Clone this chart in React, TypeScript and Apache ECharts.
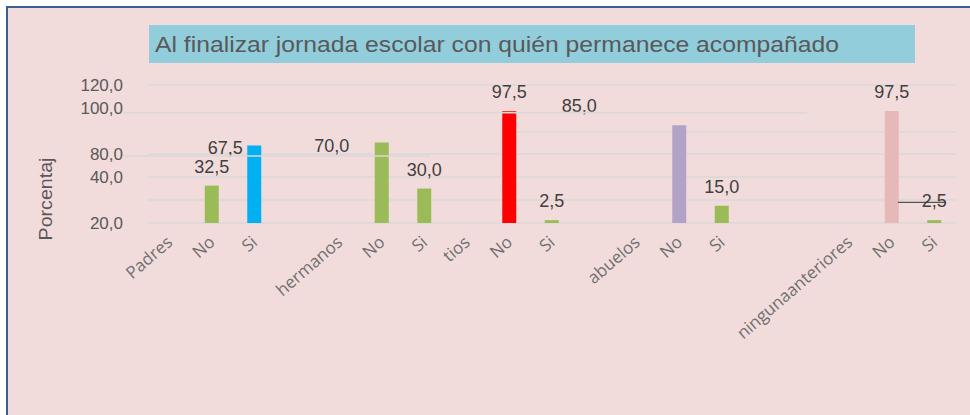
import React, { useEffect, useRef } from "react";
import * as echarts from "echarts";

const categories = [
  "Padres", "No", "Si", "", "hermanos", "No", "Si", "tios", "No", "Si", "",
  "abuelos", "No", "Si", "", "", "ningunaanteriores", "No", "Si",
];
const values: (number | null)[] = [
  null, 32.5, 67.5, null, null, 70.0, 30.0, null, 97.5, 2.5, null,
  null, 85.0, 15.0, null, null, null, 97.5, 2.5,
];
const barColors = [
  "", "#9BBB59", "#00B0F0", "", "", "#9BBB59", "#9BBB59", "", "#FF0000", "#9BBB59", "",
  "", "#B3A2C7", "#9BBB59", "", "", "", "#E6B9B8", "#9BBB59",
];
// tick labels as they appear at ticks 0,20,40,60,80,100,120
const yTickLabels = ["20,0", "", "40,0", "80,0", "", "100,0", "120,0"];
const titleText = "Al finalizar jornada escolar con quién permanece acompañado";
const yAxisTitle = "Porcentaj";

// label displacement (style only)
const labelShift: Record<number, [number, number]> = {
  2: [-29, 22],
  5: [-50, 22],
  12: [-100, 0],
};

const GRID = "#D9D9D9";
const TEXT = "#404040";
const FONT = "Liberation Sans, Arial, sans-serif";

export default function App() {
  const ref = useRef<HTMLDivElement>(null);
  useEffect(() => {
    if (!ref.current) return;
    const chart = echarts.init(ref.current, undefined, { renderer: "svg" });
    const fmt = (v: number) => v.toFixed(1).replace(".", ",");
    chart.setOption({
      animation: false,
      backgroundColor: "#F2DCDB",
      grid: { left: 140, top: 77, width: 807.5, height: 138, containLabel: false },
      xAxis: {
        type: "category",
        data: categories,
        axisLine: { show: false },
        axisTick: { show: false },
        axisLabel: {
          interval: 0,
          rotate: 41,
          margin: 16,
          color: "#707070",
          fontSize: 17,
          fontFamily: "Open Sans",
        },
      },
      yAxis: {
        type: "value",
        min: 0,
        max: 120,
        interval: 20,
        axisLine: { show: false },
        axisTick: { show: false },
        axisLabel: {
          formatter: (v: number) => yTickLabels[Math.round(v / 20)] ?? "",
          margin: 25,
          color: "#595959",
          fontSize: 17,
          fontFamily: FONT,
        },
        splitLine: {
          lineStyle: {
            width: 1.5,
            color: [GRID, GRID, GRID, GRID, "rgba(0,0,0,0)", "rgba(0,0,0,0)", GRID],
          },
        },
      },
      series: [
        {
          type: "bar",
          barWidth: 14,
          data: values.map((v, i) => ({
            value: v,
            itemStyle: { color: barColors[i] || "#9BBB59" },
            label: labelShift[i] ? { offset: labelShift[i] } : undefined,
          })),
          label: {
            show: true,
            position: "top",
            distance: 10,
            color: TEXT,
            fontSize: 18,
            fontFamily: FONT,
            formatter: (p: any) => (p.value == null ? "" : fmt(p.value)),
          },
          z: 2,
        },
      ],
      graphic: [
        { type: "rect", z: 10, shape: { x: 141, y: 17, width: 766, height: 38 }, style: { fill: "#92CDDC" } },
        {
          type: "text", z: 11, x: 147, y: 36, scaleX: 1.075,
          style: { text: titleText, fill: "#595959", fontSize: 23, fontFamily: FONT, verticalAlign: "middle", align: "left" },
        },
        {
          type: "text", z: 11, x: 38, y: 191, rotation: Math.PI / 2, scaleX: 1.09,
          style: { text: yAxisTitle, fill: "#595959", fontSize: 18, fontFamily: FONT, verticalAlign: "middle", align: "center" },
        },
        { type: "line", z: 20, shape: { x1: 115, y1: 104.7, x2: 799, y2: 104.7 }, style: { stroke: GRID, lineWidth: 1.7 } },
        { type: "line", z: 20, shape: { x1: 115, y1: 148, x2: 422, y2: 148 }, style: { stroke: GRID, lineWidth: 1.7 } },
        { type: "line", z: 1, shape: { x1: 508, y1: 123.7, x2: 947.5, y2: 123.7 }, style: { stroke: GRID, lineWidth: 1.5 } },
        { type: "line", z: 20, shape: { x1: 890, y1: 194.3, x2: 937, y2: 194.3 }, style: { stroke: "#303030", lineWidth: 1 } },
      ],
    });
    return () => chart.dispose();
  }, []);
  return (
    <div style={{ position: "fixed", inset: 0, overflow: "hidden", background: "#fff" }}>
      <div
        style={{
          position: "absolute",
          left: 6,
          top: 6,
          width: 1000,
          height: 500,
          border: "2px solid #3A5F8E",
          background: "#F2DCDB",
        }}
      >
        <div ref={ref} style={{ width: 962, height: 407 }} />
      </div>
    </div>
  );
}
